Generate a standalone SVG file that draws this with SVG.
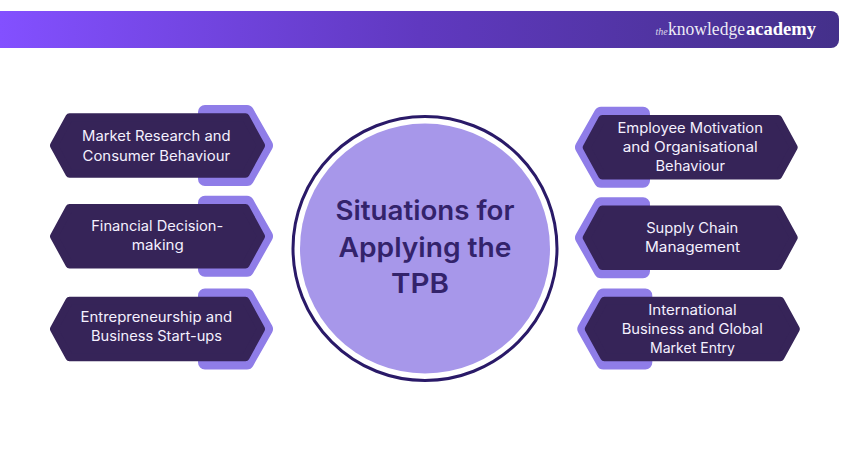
<svg xmlns="http://www.w3.org/2000/svg" width="850" height="450" viewBox="0 0 850 450">
<style>
.dark{fill:#362458;stroke:#362458;stroke-width:8;stroke-linejoin:round}
.back{fill:#8f7de8;stroke:#8f7de8;stroke-width:14;stroke-linejoin:round}
.lbl{font-family:"Inter","Liberation Sans",sans-serif;font-size:14px;fill:#f5f1ff;text-anchor:middle}
.title{font-family:"Inter","Liberation Sans",sans-serif;font-size:27px;font-weight:600;fill:#33236b;text-anchor:middle}
.logo{font-family:"Liberation Serif",serif;fill:#fff}
</style>
<defs>
<linearGradient id="bar" x1="0" y1="0" x2="1" y2="0"><stop offset="0" stop-color="#8350ff"/><stop offset="0.5" stop-color="#6039c0"/><stop offset="1" stop-color="#44308a"/></linearGradient>
<polygon id="hex" class="dark" points="-103.5,0 -88,-28.3 88,-28.3 103.5,0 88,28.3 -88,28.3"/>
<polygon id="backR" class="back" points="-62,-33.5 -20,-33.5 -1,0 -20,33.5 -62,33.5"/>
<polygon id="backL" class="back" points="62,-33.5 20,-33.5 1,0 20,33.5 62,33.5"/>
</defs>
<g id="header">
<path d="M0 11H831a8 8 0 0 1 8 8V40a8 8 0 0 1-8 8H0Z" fill="url(#bar)"/>
<text class="logo" x="655.5" y="35" font-size="10" font-style="italic" fill-opacity="0.8">the</text>
<text class="logo" x="668" y="35" font-size="18" fill-opacity="0.92" textLength="77" lengthAdjust="spacingAndGlyphs">knowledge</text>
<text class="logo" x="746" y="35" font-size="18" font-weight="700" textLength="70" lengthAdjust="spacingAndGlyphs">academy</text>
</g>
<g id="center">
<circle cx="425" cy="248.5" r="132" fill="#fff" stroke="#2a1a68" stroke-width="3"/>
<circle cx="425" cy="248.5" r="125" fill="#a797ea"/>
<text class="title" x="425" y="220" textLength="179" lengthAdjust="spacingAndGlyphs">Situations for</text>
<text class="title" x="425" y="257" textLength="173" lengthAdjust="spacingAndGlyphs">Applying the</text>
<text class="title" x="420" y="293" textLength="58" lengthAdjust="spacingAndGlyphs">TPB</text>
</g>
<g id="node-market">
<use href="#backR" x="267" y="145.5"/><use href="#hex" x="157.5" y="145.5"/>
<text class="lbl" x="156.3" y="141" textLength="148.5" lengthAdjust="spacingAndGlyphs">Market Research and</text>
<text class="lbl" x="156.3" y="160.5" textLength="147.5" lengthAdjust="spacingAndGlyphs">Consumer Behaviour</text>
</g>
<g id="node-financial">
<use href="#backR" x="267" y="236.3"/><use href="#hex" x="157.5" y="236.3"/>
<text class="lbl" x="157.2" y="231" textLength="132" lengthAdjust="spacingAndGlyphs">Financial Decision-</text>
<text class="lbl" x="157.8" y="250" textLength="52" lengthAdjust="spacingAndGlyphs">making</text>
</g>
<g id="node-entrepreneurship">
<use href="#backR" x="267" y="329"/><use href="#hex" x="157.5" y="329"/>
<text class="lbl" x="156.3" y="322" textLength="151.5" lengthAdjust="spacingAndGlyphs">Entrepreneurship and</text>
<text class="lbl" x="156.5" y="341" textLength="131" lengthAdjust="spacingAndGlyphs">Business Start-ups</text>
</g>
<g id="node-employee">
<use href="#backL" x="581" y="147.3"/><use href="#hex" x="690.2" y="147.3"/>
<text class="lbl" x="690.2" y="133.3" textLength="145.5" lengthAdjust="spacingAndGlyphs">Employee Motivation</text>
<text class="lbl" x="690.2" y="152.3" textLength="135" lengthAdjust="spacingAndGlyphs">and Organisational</text>
<text class="lbl" x="690.3" y="171.3" textLength="69.5" lengthAdjust="spacingAndGlyphs">Behaviour</text>
</g>
<g id="node-supply">
<use href="#backL" x="581" y="237.7"/><use href="#hex" x="690.2" y="237.7"/>
<text class="lbl" x="692.2" y="233.3" textLength="92" lengthAdjust="spacingAndGlyphs">Supply Chain</text>
<text class="lbl" x="692.5" y="252.3" textLength="95" lengthAdjust="spacingAndGlyphs">Management</text>
</g>
<g id="node-international">
<use href="#backL" x="583.3" y="329"/><use href="#hex" x="692.3" y="329"/>
<text class="lbl" x="692.5" y="315" textLength="88.5" lengthAdjust="spacingAndGlyphs">International</text>
<text class="lbl" x="692.3" y="334" textLength="141.3" lengthAdjust="spacingAndGlyphs">Business and Global</text>
<text class="lbl" x="692.5" y="353" textLength="85" lengthAdjust="spacingAndGlyphs">Market Entry</text>
</g>
<g id="connectors"></g>
</svg>
